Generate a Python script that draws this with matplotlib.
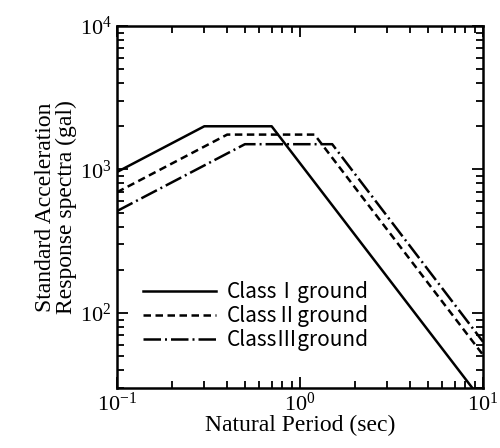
# Standard acceleration response spectra by ground class

import matplotlib
matplotlib.use('Agg')
import matplotlib.pyplot as plt
from matplotlib.ticker import LogLocator, NullFormatter

# corner points of each spectrum (period in sec, acceleration in gal)
period_1 = [0.1, 0.3, 0.7, 10.0]
accel_1 = [960, 2000, 2000, 24]
period_2 = [0.1, 0.4, 1.2, 10.0]
accel_2 = [694, 1750, 1750, 51]
period_3 = [0.1, 0.5, 1.5, 10.0]
accel_3 = [513, 1500, 1500, 63]
labels = ['Class\u2160ground', 'Class\u2161ground', 'Class\u2162ground']

plt.rcParams['font.family'] = ['Liberation Serif', 'DejaVu Serif']
plt.rcParams['mathtext.fontset'] = 'stix'

fig = plt.figure(figsize=(5, 4.48), dpi=100)
ax = fig.add_axes([0.234, 0.134, 0.732, 0.808])

ax.plot(period_1, accel_1, color='black', lw=1.8, ls='-', label=labels[0])
ax.plot(period_2, accel_2, color='black', lw=1.8, ls=(0, (3, 1.8)), label=labels[1])
ax.plot(period_3, accel_3, color='black', lw=1.8, ls=(0, (7, 1.6, 0.8, 1.6)), label=labels[2])

ax.set_xscale('log')
ax.set_yscale('log')
ax.set_xlim(0.1, 10)
ax.set_ylim(30, 1e4)

ax.xaxis.set_major_locator(LogLocator(base=10, numticks=10))
ax.yaxis.set_major_locator(LogLocator(base=10, numticks=10))
ax.xaxis.set_minor_locator(LogLocator(base=10, subs=range(2, 10), numticks=20))
ax.yaxis.set_minor_locator(LogLocator(base=10, subs=range(2, 10), numticks=20))
ax.xaxis.set_minor_formatter(NullFormatter())
ax.yaxis.set_minor_formatter(NullFormatter())

ax.tick_params(which='both', direction='in', top=True, right=True, width=1.3)
ax.tick_params(which='major', length=8, labelsize=16, pad=4)
ax.tick_params(axis='x', which='major', pad=3)
ax.tick_params(which='minor', length=5)
for s in ax.spines.values():
    s.set_linewidth(1.8)

ax.set_xlabel('Natural Period (sec)', fontsize=17, labelpad=0)
ax.set_ylabel('Standard Acceleration\nResponse spectra (gal)', fontsize=17, labelpad=2,
              linespacing=1.0)

leg = ax.legend(loc='lower left', bbox_to_anchor=(0.02, 0.05), frameon=False,
                handlelength=3.5, handletextpad=0.5, labelspacing=0.1,
                prop={'family': ['Noto Sans CJK JP', 'DejaVu Sans'], 'size': 15})

fig.savefig('out.png', dpi=100)
